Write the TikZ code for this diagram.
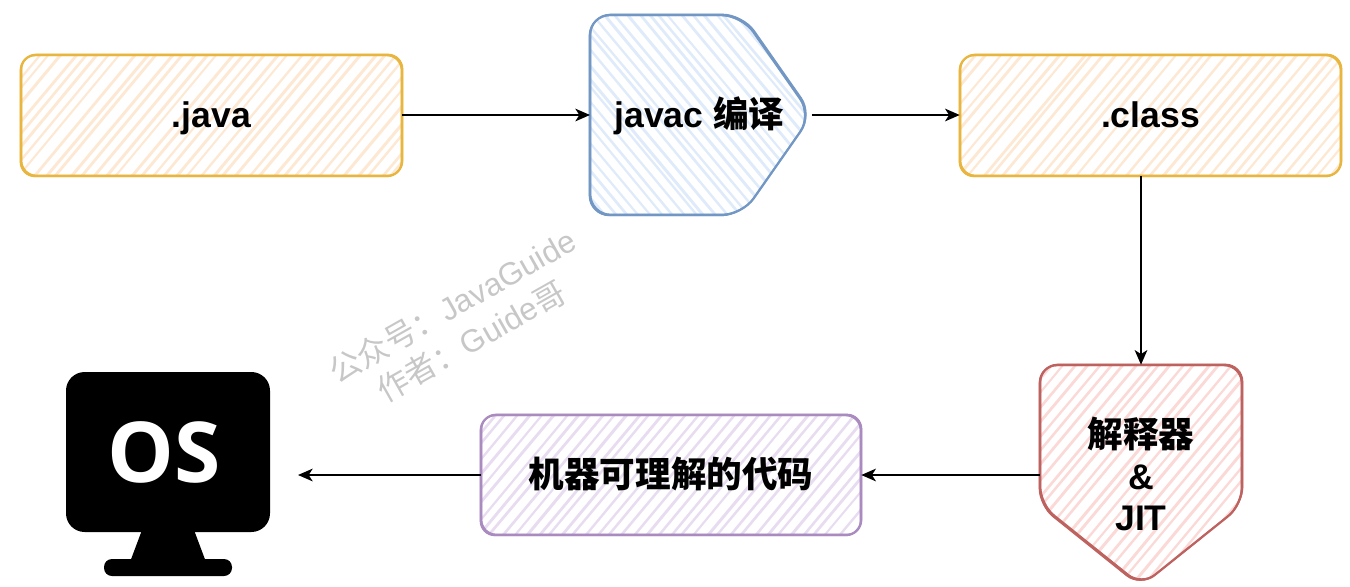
\documentclass[tikz,border=0pt]{standalone}
\usepackage{fontspec}
\setmainfont{Liberation Sans}
\newfontfamily\cjk{Noto Sans CJK SC}
\newfontfamily\osfont{Open Sans}
\usetikzlibrary{arrows.meta}
\definecolor{yline}{HTML}{E8B53F}
\definecolor{yfill}{HTML}{FDE9D3}
\definecolor{bline}{HTML}{7397C4}
\definecolor{bfill}{HTML}{DFEBFA}
\definecolor{rline}{HTML}{BE6260}
\definecolor{rfill}{HTML}{FBD9D7}
\definecolor{pline}{HTML}{A98BBF}
\definecolor{pfill}{HTML}{E8DDF0}
\tikzset{
  x=0.75pt,y=-0.75pt,
  label box/.style={inner sep=0pt,font=\bfseries\fontsize{26.7}{31}\selectfont,align=center},
  one line/.style={label box,text height=20pt,text depth=2pt},
  outline/.style={line width=1.7pt,line join=round},
  outline two/.style={line width=0.8pt,line join=round,xshift=0.6pt,yshift=0.6pt},
  outline three/.style={line width=0.8pt,line join=round,xshift=-0.6pt,yshift=-0.5pt},
  flow/.style={draw=black,line width=1.1pt,-{Stealth[length=11pt,width=9.5pt,inset=3pt]}},
  wm/.style={text=black!22,inner sep=0pt,font=\fontsize{23.7}{28}\selectfont,rotate=29.5}
}
% hatching: #1 colour, #2 horizontal run of a stroke (sign gives the direction), #3 spacing
\newcommand{\hatchfill}[3]{%
  \pgfmathsetmacro{\hnext}{-800+#3}%
  \foreach \k in {-800,\hnext,...,2100}{%
    \pgfmathsetmacro{\ja}{rnd*5-2.5}%
    \pgfmathsetmacro{\jb}{rnd*7-3.5}%
    \pgfmathsetmacro{\jw}{1.5+rnd*0.8}%
    \draw[line width=\jw pt,#1] (\k+\ja,600) -- (\k+#2+\jb,0);}}
\newcommand{\sketchline}[3]{%
  \draw[outline,#1,rounded corners=#3] #2;
  \draw[outline two,#1,rounded corners=#3] #2;
  \draw[outline three,#1,rounded corners=#3] #2;}
\pgfmathsetseed{4711}
\begin{document}
\begin{tikzpicture}
\useasboundingbox (0,0) rectangle (1350,586);
% .java
\begin{scope}
\clip[rounded corners=11pt] (21,55) rectangle (402,176);
\hatchfill{yfill}{500}{12}
\end{scope}
\sketchline{yline}{(21,55) rectangle (402,176)}{11pt}
% .class
\begin{scope}
\clip[rounded corners=11pt] (960,55) rectangle (1341,176);
\hatchfill{yfill}{500}{12}
\end{scope}
\sketchline{yline}{(960,55) rectangle (1341,176)}{11pt}
% javac
\begin{scope}
\clip[rounded corners=15pt] (590,15) -- (742,15) -- (812,115) -- (742,215) -- (590,215) -- cycle;
\hatchfill{bfill}{-500}{11}
\end{scope}
\sketchline{bline}{(590,15) -- (742,15) -- (812,115) -- (742,215) -- (590,215) -- cycle}{15pt}
% interpreter
\begin{scope}
\clip[rounded corners=13pt] (1040,365) -- (1242,365) -- (1242,505) -- (1141,586) -- (1040,505) -- cycle;
\hatchfill{rfill}{500}{12}
\end{scope}
\sketchline{rline}{(1040,365) -- (1242,365) -- (1242,505) -- (1141,586) -- (1040,505) -- cycle}{13pt}
% machine code
\begin{scope}
\clip[rounded corners=11pt] (481,415) rectangle (861,535);
\hatchfill{pfill}{500}{12}
\end{scope}
\sketchline{pline}{(481,415) rectangle (861,535)}{11pt}
% monitor icon
\fill[rounded corners=14pt] (66,372) rectangle (270,532);
\fill (142,530) -- (194,530) -- (206,562) -- (130,562) -- cycle;
\fill[rounded corners=6pt] (104,559) rectangle (232,576);
% nodes
\node[one line,minimum width=381*0.75pt,minimum height=122*0.75pt] (java) at (211.5,115) {.java};
\node[inner sep=0pt,minimum width=217*0.75pt,minimum height=200*0.75pt,anchor=west] (javac) at (590,115) {};
\node[one line] (javact) at (699.5,115) {javac {\cjk 编译}};
\node[one line,minimum width=381*0.75pt,minimum height=122*0.75pt] (class) at (1150.5,115) {.class};
\node[inner sep=0pt,minimum width=202*0.75pt,minimum height=220*0.75pt] (jit) at (1141,475) {};
\node[label box] (jitt) at (1141,474) {{\cjk 解释器}\\\&\\JIT};
\node[one line,minimum width=380*0.75pt,minimum height=120*0.75pt] (code) at (671,475) {{\cjk 机器可理解的代码}};
\node[inner sep=0pt,text=white,font=\osfont\bfseries\fontsize{63}{63}\selectfont] (os) at (164,452) {OS};
\coordinate (osin) at (298,475);
\node[wm] (wm1) at (452,306) {{\cjk 公众号：}JavaGuide};
\node[wm] (wm2) at (471,341) {{\cjk 作者：}Guide{\cjk 哥}};
% connectors
\draw[flow] (java.east) -- (javac.west);
\draw[flow] ([xshift=3pt]javac.east) -- (class.west);
\draw[flow] (class.south -| jit.north) -- (jit.north);
\draw[flow] (jit.west) -- (code.east);
\draw[flow] (code.west) -- (osin);
\end{tikzpicture}
\end{document}
